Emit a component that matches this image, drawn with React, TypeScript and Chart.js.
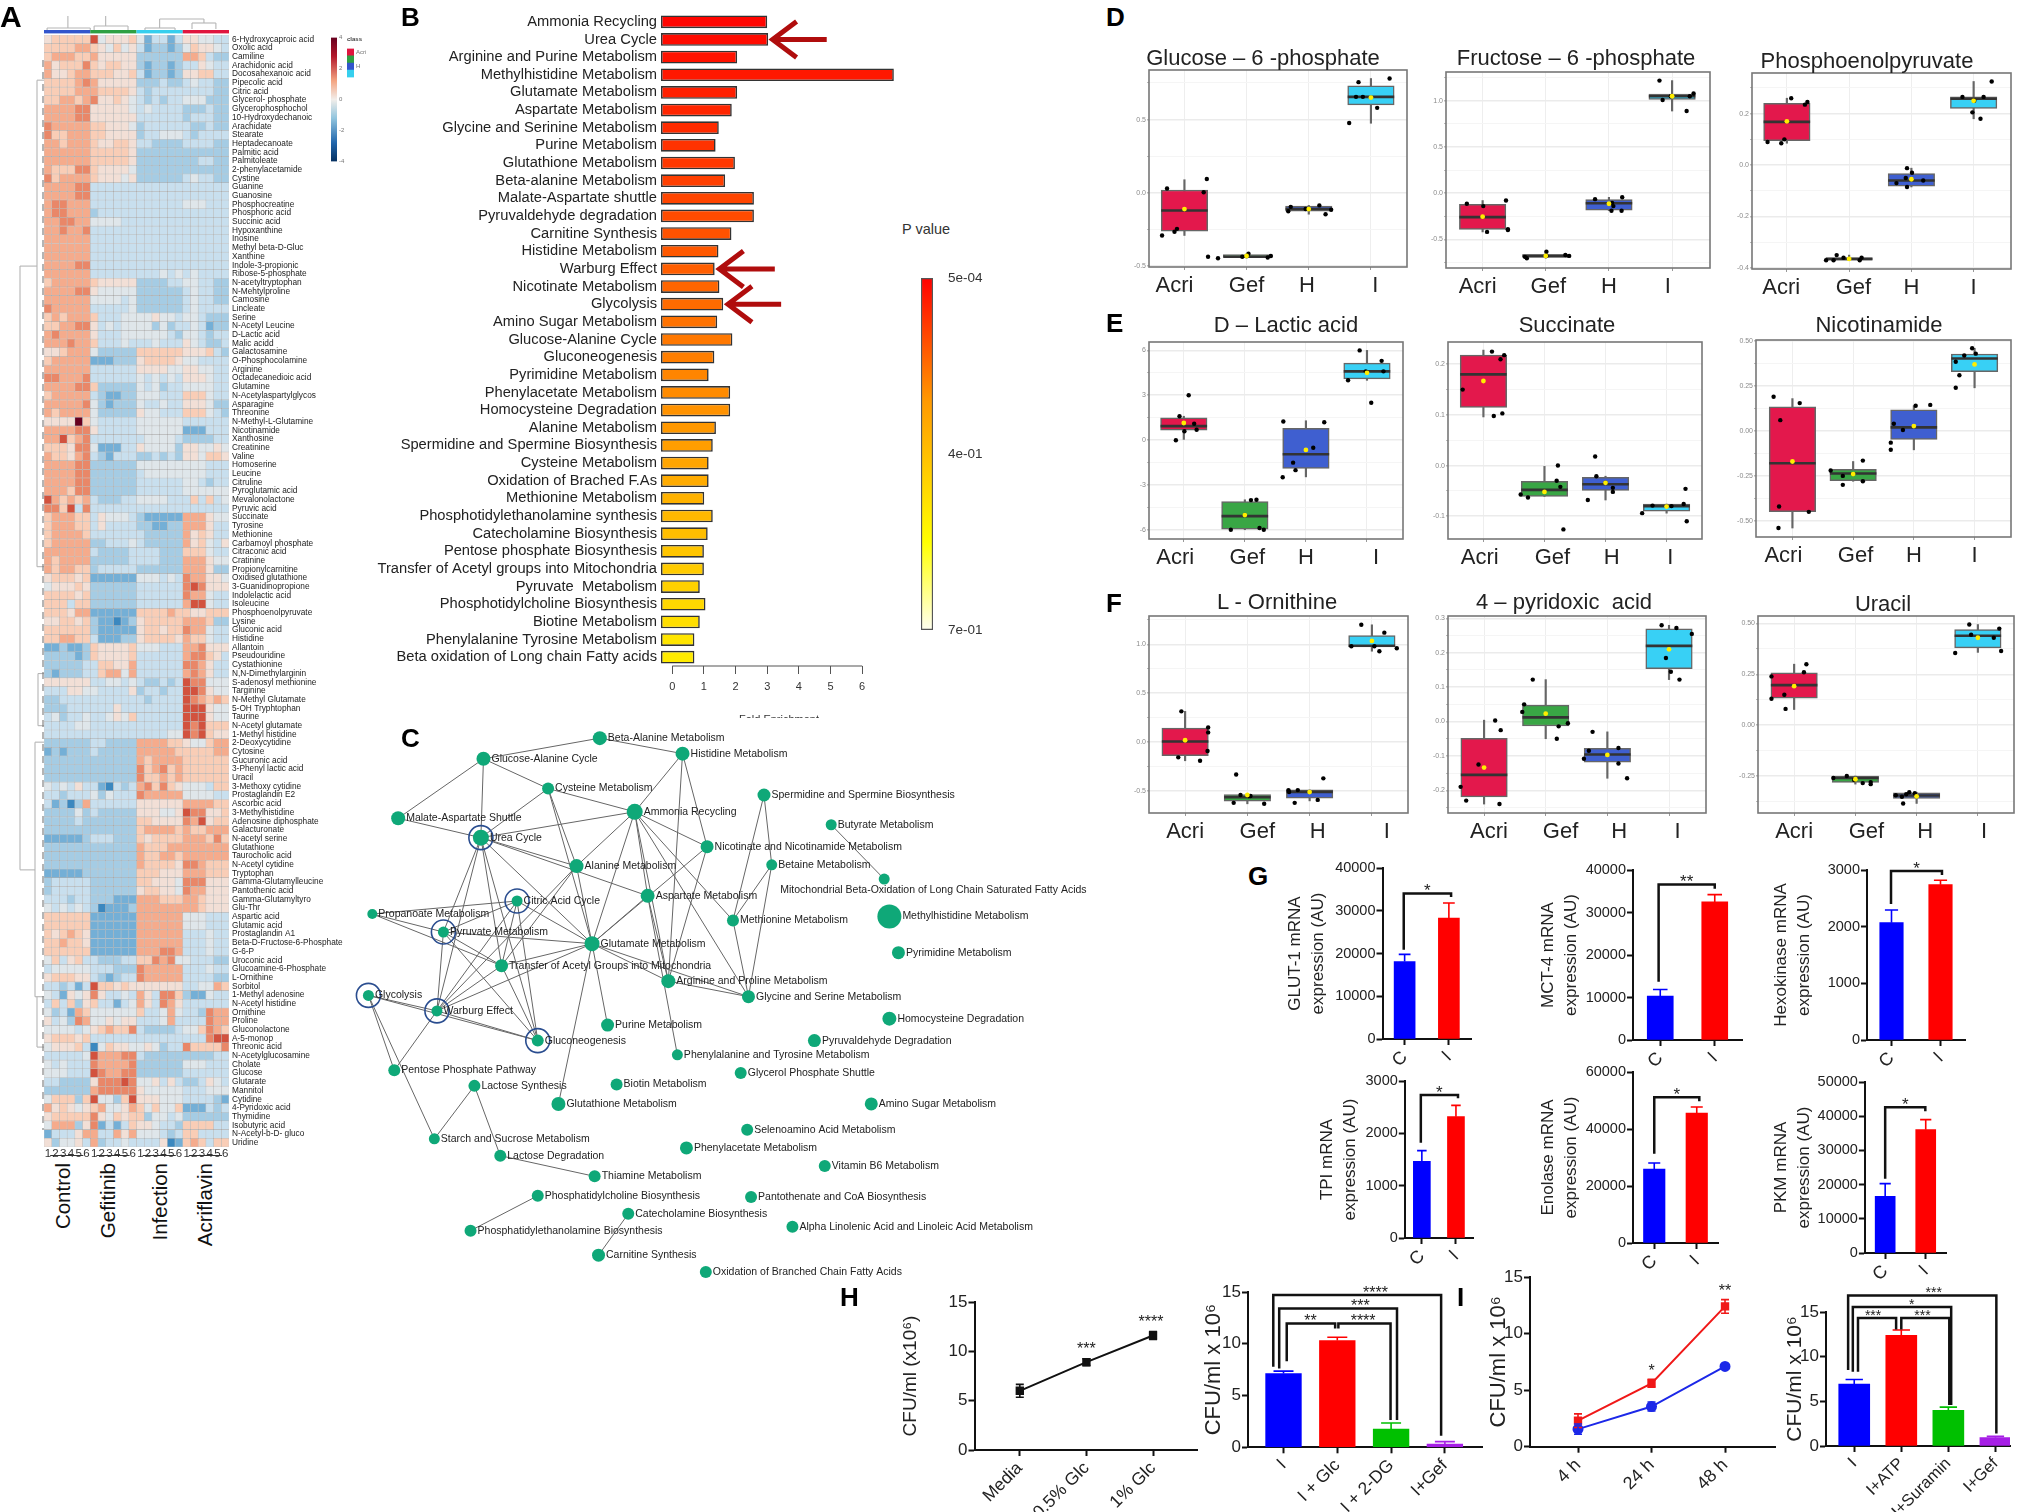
import { useEffect, useRef } from "react";
import { Chart, registerables } from "chart.js";

Chart.register(...registerables);
const FONT = "'Liberation Sans', Arial, sans-serif";
Chart.defaults.font.family = FONT;
Chart.defaults.color = "#222";
Chart.defaults.plugins.legend.display = false;
Chart.defaults.plugins.tooltip.enabled = false;

/* ---------- Panel A data ---------- */
const metabolites = ["6-Hydroxycaproic acid","Oxolic acid","Camiline","Arachidonic acid","Docosahexanoic acid","Pipecolic acid","Citric acid","Glycerol- phosphate","Glycerophosphochol","10-Hydroxydechanoic","Arachidate","Stearate","Heptadecanoate","Palmitic acid","Palmitoleate","2-phenylacetamide","Cystine","Guanine","Guanosine","Phosphocreatine","Phosphoric acid","Succinic acid","Hypoxanthine","Inosine","Methyl beta-D-Gluc","Xanthine","Indole-3-propionic","Ribose-5-phosphate","N-acetyltryptophan","N-Mehtylproline","Camosine","Lincleate","Serine","N-Acetyl Leucine","D-Lactic acid","Malic acidd","Galactosamine","O-Phosphocolamine","Arginine","Octadecanedioic acid","Glutamine","N-Acetylaspartylglycos","Asparagine","Threonine","N-Methyl-L-Glutamine","Nicotinamide","Xanthosine","Creatinine","Valine","Homoserine","Leucine","Citruline","Pyroglutamic acid","Mevalonolactone","Pyruvic acid","Succinate","Tyrosine","Methionine","Carbamoyl phosphate","Citraconic acid","Cratinine","Propionylcarnitine","Oxidised glutathione","3-Guanidinopropione","Indolelactic acid","Isoleucine","Phosphoenolpyruvate","Lysine","Gluconic acid","Histidine","Allantoin","Pseudouridine","Cystathionine","N,N-Dimethylarginin","S-adenosyl methionine","Targinine","N-Methyl Glutamate","5-OH Tryphtophan","Taurine","N-Acetyl glutamate","1-Methyl histidine","2-Deoxycytidine","Cytosine","Gucuronic acid","3-Phenyl lactic acid","Uracil","3-Methoxy cytidine","Prostaglandin E2","Ascorbic acid","3-Methylhistidine","Adenosine diphosphate","Galacturonate","N-acetyl serine","Glutathione","Taurocholic acid","N-Acetyl cytidine","Tryptophan","Gamma-Glutamylleucine","Pantothenic acid","Gamma-Glutamyltyro","Glu-Thr","Aspartic acid","Glutamic acid","Prostaglandin A1","Beta-D-Fructose-6-Phosphate","G-6-P","Uroconic acid","Glucoamine-6-Phosphate","L-Ornithine","Sorbitol","1-Methyl adenosine","N-Acetyl histidine","Ornithine","Proline","Gluconolactone","A-5-monop","Threonic acid","N-Acetylglucosamine","Cholate","Glucose","Glutarate","Mannitol","Cytidine","4-Pyridoxic acid","Thymidine","Isobutyric acid","N-Acetyl-b-D- gluco","Uridine"];

// one string per metabolite, 24 cells: Control, Gefitinib, Infection, Acriflavin (level 0 blue ... 9 red, X darkest)
const heatRows = [
"566666 945556 413313 554433","666677 654645 312212 465543","677766 755555 222222 776322","756668 656655 212212 335433","755677 666556 312212 556633",
"666678 755555 222322 343322","666677 766665 323333 333322","667767 855654 323233 444222","777788 555554 343333 222322","777788 555555 333333 233322",
"877777 665554 233333 322322","866777 665555 233444 323333","776777 655665 332222 333322","777777 666665 222222 222222","777777 666665 222222 223322",
"766688 655554 222222 222222","867777 655545 222222 343322","777788 333333 333333 333333","777788 333333 333333 333333","788777 333333 333333 444333",
"788777 233333 333333 333333","778877 444433 333333 333333","778778 333333 333333 333333","777777 333333 333333 333333","777777 333333 333333 333333",
"777777 333333 333333 333333","777788 333333 333333 333333","777777 333333 333434 343333","677777 655555 222233 443322","777788 544444 222222 343322",
"777777 444434 222222 343322","877777 333334 222222 343333","676777 633344 445443 443222","667788 534344 442423 343122","787777 533344 444432 443233",
"777877 633343 334333 543223","556777 422222 666666 555632","677777 111222 566665 443333","777777 333333 555544 554433","887778 333333 434343 555433",
"777788 622222 434233 444433","677777 321122 444333 666433","777778 421222 433433 555422","767777 422222 544333 666432","5555X6 433333 444444 333333",
"777788 533333 444444 111333","779678 333333 344443 222233","666588 411133 544442 554454","766578 321333 223232 554665","777788 222222 444444 444333",
"777788 222222 344444 444333","777788 222222 333333 443233","777688 222222 333333 444444","976767 322233 444433 363634","886938 333333 333333 333333",
"677766 354443 211111 777544","677766 353333 221122 777533","677776 333333 322222 756533","677777 223334 322222 756435","777777 322223 333222 666433",
"767777 222223 333222 777544","767766 233333 222222 777522","566656 111111 444343 877554","455565 222222 333333 898555","666656 222222 333333 877433",
"666366 222222 333333 799433","666577 111111 666676 655666","556656 211012 566666 777622","666666 211111 566566 877433","667766 311122 566665 766433",
"112112 655556 444333 778555","222212 655556 333333 788653","222223 366557 333333 887533","212223 367747 333333 787533","555555 334434 322323 988444",
"333554 433335 233233 998544","223333 333333 323333 987676","222333 333533 333333 999544","342334 334546 333333 999544","333344 333333 333333 989666",
"333333 333333 333344 989655","222222 332222 777766 544677","121222 322222 777776 666677","222222 222222 767777 666666","222222 222222 867867 666666",
"222222 222222 866767 666666","434353 310323 786865 444366","332333 424333 877777 444433","312027 333333 555555 777766","222242 322222 555445 988556",
"222232 222222 665555 879566","222222 222222 677776 766777","111112 333222 656666 777686","222222 222222 766677 777777","222222 222222 766776 777777",
"222222 222222 766665 887666","111112 222222 666555 777666","233333 222222 665554 888555","233333 222222 566554 877555","333233 222111 777666 776555",
"434343 201112 777777 776555","666666 111111 777777 444333","666666 111111 777777 444333","656765 111111 777777 333433","667665 111111 777777 333433",
"666666 111111 777887 333433","463563 322233 668784 433322","344444 333222 877777 333433","566655 321233 877777 333322","332313 966565 555555 334476",
"431545 853343 753886 211433","363625 633134 753875 333333","423176 444444 633474 332877","534287 445455 333473 333877","444434 567668 322223 446876",
"566656 333333 333333 333899","455563 046554 454233 866668","333334 977788 322222 222233","434333 877778 222222 444333","444333 987788 222222 333333",
"332222 588898 445353 223543","222222 788888 544444 333444","466626 944269 555444 333321","756545 674457 646446 111323","566666 854656 624434 222222",
"477725 813136 554332 666633","133357 733757 444323 663333","524453 723343 333501 676366"
];
const heatLevels = ["#3b88bf","#74afd6","#a5cce4","#c8dfee","#dfe6ea","#f2dfd6","#f9cdb6","#f5ab8c","#e98768","#d2523e"];
const heatMax = "#67001f";
const columnLabels = ["1","2","3","4","5","6","1","2","3","4","5","6","1","2","3","4","5","6","1","2","3","4","5","6"];
const classNames = ["Acri","Gef","H","I"];
const classColors = ["#e0163f","#2ea043","#3355cc","#36cfee"];
const stripColors = ["#3355cc","#2ea043","#36cfee","#e0163f"];

/* ---------- Panel B data ---------- */
const pathways = ["Ammonia Recycling","Urea Cycle","Arginine and Purine Metabolism","Methylhistidine Metabolism","Glutamate Metabolism","Aspartate Metabolism","Glycine and Serinine Metabolism","Purine Metabolism","Glutathione Metabolism","Beta-alanine Metabolism","Malate-Aspartate shuttle","Pyruvaldehyde degradation","Carnitine Synthesis","Histidine Metabolism","Warburg Effect","Nicotinate Metabolism","Glycolysis","Amino Sugar Metabolism","Glucose-Alanine Cycle","Gluconeogenesis","Pyrimidine Metabolism","Phenylacetate Metabolism","Homocysteine Degradation","Alanine Metabolism","Spermidine and Spermine Biosynthesis","Cysteine Metabolism","Oxidation of Brached F.As","Methionine Metabolism","Phosphotidylethanolamine synthesis","Catecholamine Biosynthesis","Pentose phosphate Biosynthesis","Transfer of Acetyl groups into Mitochondria","Pyruvate  Metabolism","Phosphotidylcholine Biosynthesis","Biotine Metabolism","Phenylalanine Tyrosine Metabolism","Beta oxidation of Long chain Fatty acids"];
const foldEnrichment = [3.0,3.03,2.05,7.0,2.05,1.88,1.47,1.37,1.98,1.67,2.58,2.58,1.87,1.46,1.34,1.49,1.61,1.42,1.9,1.33,1.15,1.83,1.83,1.38,1.28,1.15,1.15,1.01,1.28,1.12,1.0,1.0,0.87,1.05,0.87,0.7,0.7];
const foldTicks = [0,1,2,3,4,5,6];
const pValueTicks = ["7e-01","4e-01","5e-04"];
const arrowMarks = [[3.17,4.88,1],[1.49,3.24,14],[1.76,3.44,16]];

/* ---------- Panel C data ---------- */
const nodeNames = ["Beta-Alanine Metabolism","Histidine Metabolism","Glucose-Alanine Cycle","Cysteine Metabolism","Spermidine and Spermine Biosynthesis","Ammonia Recycling","Malate-Aspartate Shuttle","Butyrate Metabolism","Urea Cycle","Nicotinate and Nicotinamide Metabolism","Betaine Metabolism","Alanine Metabolism","Mitochondrial Beta-Oxidation of Long Chain Saturated Fatty Acids","Aspartate Metabolism","Citric Acid Cycle","Propanoate Metabolism","Methylhistidine Metabolism","Pyruvate Metabolism","Methionine Metabolism","Glutamate Metabolism","Pyrimidine Metabolism","Transfer of Acetyl Groups into Mitochondria","Arginine and Proline Metabolism","Glycine and Serine Metabolism","Glycolysis","Warburg Effect","Homocysteine Degradation","Purine Metabolism","Gluconeogenesis","Pyruvaldehyde Degradation","Phenylalanine and Tyrosine Metabolism","Pentose Phosphate Pathway","Glycerol Phosphate Shuttle","Lactose Synthesis","Biotin Metabolism","Glutathione Metabolism","Amino Sugar Metabolism","Selenoamino Acid Metabolism","Starch and Sucrose Metabolism","Phenylacetate Metabolism","Lactose Degradation","Vitamin B6 Metabolism","Thiamine Metabolism","Phosphatidylcholine Biosynthesis","Pantothenate and CoA Biosynthesis","Catecholamine Biosynthesis","Alpha Linolenic Acid and Linoleic Acid Metabolism","Phosphatidylethanolamine Biosynthesis","Carnitine Synthesis","Oxidation of Branched Chain Fatty Acids"];
const nodeX = [464,528,374,424,591,491,308,643,372,547,597,446,684,501,400,288,688,343,567,458,695,388,517,579,285,338,688,470,416,630,524,305,573,367,477,432,674,578,336,531,387,638,460,416,581,486,613,364,463,546];
const nodeY = [571,583,587,610,615,628,633,638,648,655,669,670,680,693,697,707,709,721,712,730,737,747,759,771,770,782,788,793,805,805,816,828,830,840,839,854,854,874,881,888,894,902,910,925,926,939,949,952,971,984];
const nodeSize = [7,7,7,6,6.5,8,7,5.5,8,6.5,5.5,7,5.5,7,5.5,5,12,5.5,6,7.5,6.5,6.5,7,6.5,5.5,5.5,7,6.5,6,6.5,5.5,6,6,6,6,7,6.5,6,5.5,6.5,6,6,6,6,6,6,6,6,6.5,6];
const nodeEdges = [[2,0],[0,1],[2,6],[2,8],[2,3],[3,5],[3,8],[3,19],[3,11],[6,8],[8,5],[8,11],[8,13],[8,19],[8,21],[8,28],[8,25],[8,17],[1,5],[1,9],[1,22],[5,9],[5,11],[5,13],[5,19],[5,22],[5,18],[5,23],[9,22],[9,19],[4,18],[4,10],[10,18],[10,23],[18,23],[7,12],[13,19],[13,22],[13,30],[11,19],[11,21],[11,25],[19,14],[19,17],[19,21],[19,25],[19,22],[19,23],[19,27],[19,35],[22,23],[14,17],[14,15],[14,21],[14,25],[14,28],[15,17],[15,21],[17,25],[17,21],[17,28],[21,25],[21,28],[24,25],[24,28],[25,28],[25,31],[24,38],[24,31],[33,38],[33,40],[40,42],[43,47],[45,48]];
const ringedNodes = [8,14,17,24,25,28];

/* ---------- Panels D, E, F data: [low, q1, median, q3, high, mean] per group ---------- */
const groupLabels = ["Acri","Gef","H","I"];
const boxColors = ["#e3184c","#39a645","#3f5fd0","#38d0f5"];
const glucoseStats = [[-0.29,-0.26,-0.12,0.02,0.09,-0.11],[-0.445,-0.44,-0.435,-0.42,-0.415,-0.43],[-0.145,-0.125,-0.11,-0.09,-0.085,-0.11],[0.475,0.6,0.655,0.73,0.78,0.65]];
const glucoseDots = [[-0.36,-0.29],[-0.28,0.03],[-0.16,-0.265],[-0.12,-0.245],[0.31,0.005],[0.36,0.095],[0.38,-0.435],[0.54,-0.445],[0.93,-0.435],[1.03,-0.415],[1.34,-0.44],[1.39,-0.43],[1.67,-0.125],[1.71,-0.095],[1.95,-0.11],[2.17,-0.085],[2.27,-0.145],[2.36,-0.115],[2.65,0.477],[2.8,0.755],[2.76,0.655],[2.87,0.655],[3.1,0.58],[3.3,0.78]];
const fructoseStats = [[-0.42,-0.394,-0.26,-0.12,-0.08,-0.255],[-0.705,-0.695,-0.68,-0.665,-0.635,-0.68],[-0.19,-0.185,-0.11,-0.07,-0.045,-0.115],[0.89,1.015,1.05,1.075,1.22,1.05]];
const fructoseDots = [[-0.25,-0.115],[0.01,-0.14],[0.07,-0.42],[0.37,-0.08],[0.4,-0.39],[0.4,-0.4],[0.7,-0.705],[1.01,-0.635],[1.31,-0.67],[1.37,-0.68],[0.67,-0.69],[1.01,-0.68],[1.78,-0.065],[2.05,-0.105],[2.07,-0.14],[2.04,-0.19],[2.2,-0.19],[2.21,-0.045],[2.8,1.22],[2.85,1.01],[2.98,1.05],[3.28,1.05],[3.34,1.08],[3.23,0.89]];
const pepStats = [[0.085,0.095,0.168,0.24,0.26,0.17],[-0.37,-0.37,-0.365,-0.36,-0.35,-0.365],[-0.085,-0.082,-0.06,-0.033,-0.012,-0.055],[0.18,0.22,0.258,0.265,0.325,0.25]];
const pepDots = [[-0.31,0.09],[-0.09,0.085],[-0.04,0.1],[0.07,0.26],[0.29,0.235],[0.33,0.245],[0.63,-0.37],[0.75,-0.37],[0.8,-0.35],[0.91,-0.36],[1.17,-0.37],[1.2,-0.36],[1.76,-0.07],[1.91,-0.05],[1.93,-0.012],[2.01,-0.03],[1.93,-0.085],[2.19,-0.06],[2.82,0.265],[2.98,0.205],[3.11,0.18],[3.16,0.265],[3.29,0.325],[3.01,0.25]];
const lacticStats = [[0,0.67,0.94,1.5,1.6,1.15],[-5.98,-5.95,-5.07,-4.1,-3.98,-5.0],[-2.45,-1.88,-0.94,0.8,1.3,-0.65],[4.0,4.1,4.6,5.15,6,4.5]];
const lacticDots = [[-0.13,0],[-0.07,1.6],[0.01,0.6],[0.08,3],[0.17,1.1],[0.21,0.7],[0.77,-5.98],[1.1,-4],[1.19,-3.98],[1.24,-5.87],[1.31,-5.98],[1,-5],[1.62,-2.47],[1.63,1.25],[1.79,-1.5],[1.83,-2],[2.12,-0.5],[2.3,1.2],[2.69,4],[2.88,6],[2.98,4.6],[3.07,2.5],[3.24,5.3],[3.27,4.6]];
const succinateStats = [[0.096,0.115,0.18,0.218,0.228,0.167],[-0.061,-0.061,-0.048,-0.031,0,-0.052],[-0.068,-0.049,-0.037,-0.023,-0.021,-0.034],[-0.094,-0.09,-0.08,-0.076,-0.076,-0.081]];
const succinateDots = [[-0.34,0.15],[0.14,0.225],[0.17,0.098],[0.31,0.103],[0.28,0.21],[0.34,0.218],[0.61,-0.057],[0.73,-0.063],[1.2,-0.03],[1.26,-0.042],[1.22,0],[1.31,-0.126],[1.71,-0.068],[1.83,0.018],[1.85,-0.021],[2.12,-0.044],[2.12,-0.052],[2,-0.034],[2.6,-0.094],[2.77,-0.079],[3.08,-0.08],[3.28,-0.076],[3.31,-0.046],[3.33,-0.11]];
const nicotinamideStats = [[-0.54,-0.449,-0.18,0.134,0.18,-0.17],[-0.28,-0.276,-0.237,-0.214,-0.17,-0.24],[-0.105,-0.047,0.02,0.117,0.14,0.027],[0.24,0.33,0.403,0.428,0.46,0.37]];
const nicotinamideDots = [[-0.31,0.19],[-0.2,0.06],[-0.22,-0.42],[-0.23,-0.54],[0.12,0.155],[0.27,-0.45],[0.63,-0.22],[0.83,-0.25],[0.83,-0.3],[1.16,-0.165],[1.16,-0.28],[1,-0.24],[1.62,-0.065],[1.62,-0.105],[1.67,0.04],[1.82,0.005],[2.03,0.14],[2.27,0.145],[2.69,0.24],[2.75,0.31],[2.69,0.385],[2.83,0.42],[2.96,0.46],[3.02,0.43]];
const ornithineStats = [[-0.19,-0.137,0.007,0.143,0.315,0.02],[-0.63,-0.604,-0.563,-0.536,-0.536,-0.54],[-0.6,-0.573,-0.508,-0.488,-0.488,-0.51],[0.93,0.973,0.986,1.09,1.2,1.035]];
const ornithineDots = [[-0.11,-0.155],[-0.06,0.315],[0.24,-0.19],[0.36,-0.09],[0.37,0.15],[0.37,0.1],[0.82,-0.33],[0.78,-0.62],[0.89,-0.54],[1.02,-0.55],[1.05,-0.55],[1.27,-0.63],[1.66,-0.49],[1.67,-0.51],[1.76,-0.62],[1.81,-0.49],[2.13,-0.59],[2.22,-0.37],[2.67,0.98],[2.83,1.2],[3.12,0.93],[3.2,1.12],[3.4,0.96],[3.04,0.98]];
const pyridoxicStats = [[-0.24,-0.219,-0.155,-0.049,0.004,-0.134],[-0.05,-0.013,0.012,0.048,0.122,0.023],[-0.165,-0.118,-0.096,-0.078,-0.03,-0.097],[0.122,0.154,0.22,0.27,0.28,0.21]];
const pyridoxicDots = [[-0.38,-0.19],[-0.29,-0.23],[-0.09,-0.125],[0.18,0.003],[0.27,-0.025],[0.25,-0.24],[0.62,0.028],[0.65,0.05],[0.79,0.122],[1.18,-0.05],[1.21,-0.014],[1.36,-0.005],[1.62,-0.108],[1.7,-0.085],[1.76,-0.03],[2.18,-0.077],[2.18,-0.122],[2.32,-0.165],[2.88,0.28],[2.95,0.185],[3.03,0.145],[3.12,0.272],[3.17,0.122],[3.37,0.255]];
const uracilStats = [[0.077,0.133,0.197,0.258,0.3,0.192],[-0.29,-0.282,-0.26,-0.25,-0.25,-0.266],[-0.385,-0.36,-0.346,-0.333,-0.33,-0.35],[0.358,0.38,0.44,0.47,0.495,0.43]];
const uracilDots = [[-0.37,0.24],[-0.37,0.13],[-0.16,0.15],[-0.14,0.08],[0.16,0.26],[0.2,0.3],[0.64,-0.26],[0.86,-0.25],[0.98,-0.27],[1.12,-0.285],[1.25,-0.29],[1.25,-0.28],[1.66,-0.345],[1.76,-0.352],[1.78,-0.385],[1.83,-0.34],[1.88,-0.33],[1.97,-0.335],[2.63,0.355],[2.86,0.495],[2.89,0.445],[3.26,0.43],[3.35,0.475],[3.38,0.365]];

/* ---------- Panel G data ---------- */
const expressionCats = ["C","I"];
const glutValues = [18100,28300], glutTops = [19800,31800];
const mctValues = [10350,32500], mctTops = [11900,34200];
const hexValues = [2070,2741], hexTops = [2294,2818];
const tpiValues = [1465,2318], tpiTops = [1669,2535];
const enoValues = [25960,45600], enoTops = [28070,47700];
const pkmValues = [16570,36070], pkmTops = [20280,39000];

/* ---------- Panels H, I data ---------- */
const glcCats = ["Media","0.5% Glc","1% Glc"];
const glcValues = [6.0,8.9,11.6], glcLow = [5.35,8.55,11.2], glcHigh = [6.65,9.25,12.0];
const hCats = ["I","I + Glc","I + 2-DG","I+Gef"];
const hValues = [7.13,10.31,1.77,0.32], hTops = [7.36,10.63,2.34,0.55];
const timeCats = ["4 h","24 h","48 h"];
const timeRed = [2.3,5.6,12.4], timeRedLow = [1.7,5.25,11.8], timeRedHigh = [2.9,5.95,13.0];
const timeBlue = [1.55,3.55,7.1], timeBlueLow = [1.1,3.15,6.9], timeBlueHigh = [2.0,3.95,7.3];
const iCats = ["I","I+ATP","I+Suramin","I+Gef"];
const iValues = [6.92,12.39,3.98,0.93], iTops = [7.44,12.99,4.35,1.08];

/* ---------- helpers ---------- */
const boxOf = (f: any, p: any) => ({ left: Math.round(f.l - p.l), top: Math.round(f.t - p.t), width: Math.round(f.r - f.l + p.l + p.r), height: Math.round(f.b - f.t + p.t + p.b) });
const fitW = (w: number) => (s: any) => { s.width = w; };
const fitH = (h: number) => (s: any) => { s.height = h; };
const base = (p: any) => ({ responsive: false, animation: false, events: [], devicePixelRatio: 1, layout: { autoPadding: false, padding: { top: p.t, right: p.r, left: 0, bottom: 0 } } });
const noGrid = { display: false, drawTicks: false, tickLength: 0 };

const framePlugin = (color = "#777", lw = 1.6) => ({ id: "frame", afterDatasetsDraw(c: any) { const a = c.chartArea; const x = c.ctx; x.save(); x.strokeStyle = color; x.lineWidth = lw; x.strokeRect(a.left, a.top, a.right - a.left, a.bottom - a.top); x.restore(); } });

const errorPlugin = { id: "errorBars", afterDatasetsDraw(c: any) {
  const x = c.ctx, ys = c.scales.y;
  c.data.datasets.forEach((ds: any, di: number) => {
    if (!ds.errHigh) return;
    const meta = c.getDatasetMeta(di);
    x.save(); x.strokeStyle = ds.errColor; x.lineWidth = ds.errWidth || 1.6;
    meta.data.forEach((el: any, i: number) => {
      const hi = ys.getPixelForValue(ds.errHigh[i]);
      const lo = ys.getPixelForValue(ds.errLow[i]);
      x.beginPath(); x.moveTo(el.x, lo); x.lineTo(el.x, hi);
      x.moveTo(el.x - ds.capW, hi); x.lineTo(el.x + ds.capW, hi);
      x.moveTo(el.x - ds.capW, lo); x.lineTo(el.x + ds.capW, lo);
      x.stroke();
    });
    x.restore();
  });
} };

const bracketPlugin = (items: any[], font = 17, lw = 2.5) => ({ id: "brackets", afterDatasetsDraw(c: any) {
  const x = c.ctx, xs = c.scales.x, ys = c.scales.y;
  x.save(); x.strokeStyle = "#111"; x.fillStyle = "#222"; x.lineWidth = lw; x.font = `${font}px ${FONT}`; x.textAlign = "center"; x.textBaseline = "middle";
  items.forEach((b) => {
    if (b.x1 !== undefined) {
      x.beginPath(); x.moveTo(xs.getPixelForValue(b.x1), ys.getPixelForValue(b.y1)); x.lineTo(xs.getPixelForValue(b.x1), ys.getPixelForValue(b.top));
      x.lineTo(xs.getPixelForValue(b.x2), ys.getPixelForValue(b.top)); x.lineTo(xs.getPixelForValue(b.x2), ys.getPixelForValue(b.y2)); x.stroke();
      const tx = b.tx !== undefined ? b.tx : (b.x1 + b.x2) / 2;
      x.fillText(b.text, xs.getPixelForValue(tx), ys.getPixelForValue(b.top) - 2);
    } else x.fillText(b.text, xs.getPixelForValue(b.tx), ys.getPixelForValue(b.ty));
  });
  x.restore();
} });

const axisFont = (size: number) => ({ size, family: FONT });
const plainNumber = (v: number) => String(v);

function barConfig(o: any) {
  const { p, cats, values, tops, colors, range, yMax, yStep, barW, title, titleSize, tickSize, catSize, brackets, bracketFont } = o;
  return {
    type: "bar",
    data: { datasets: [{ data: values.map((v: number, i: number) => ({ x: i, y: v })), backgroundColor: colors, barThickness: barW }] },
    options: {
      ...base(p),
      scales: {
        x: { type: "linear", offset: false, min: range[0], max: range[1], afterFit: fitH(p.b), afterBuildTicks: (s: any) => { s.ticks = cats.map((_: any, i: number) => ({ value: i })); },
          ticks: { autoSkip: false, minRotation: 45, maxRotation: 45, padding: 2, color: "#222", font: axisFont(catSize), callback: (v: number) => cats[v] },
          grid: { offset: false, drawOnChartArea: false, drawTicks: true, tickLength: 6, tickColor: "#111", tickWidth: 2 }, border: { color: "#111", width: 2 } },
        y: { min: 0, max: yMax, afterFit: fitW(p.l), ticks: { stepSize: yStep, autoSkip: false, padding: 1, color: "#222", font: axisFont(tickSize), callback: plainNumber },
          grid: { drawOnChartArea: false, drawTicks: true, tickLength: 6, tickColor: "#111", tickWidth: 2 }, border: { color: "#111", width: 2 },
          title: { display: true, text: title, color: "#222", padding: 0, font: { size: titleSize, family: FONT, lineHeight: 1.4 } } },
      },
    },
    plugins: [{ id: "barErr", afterDatasetsDraw(c: any) {
      const meta = c.getDatasetMeta(0), x = c.ctx, ys = c.scales.y;
      x.save(); x.lineWidth = 1.6;
      meta.data.forEach((el: any, i: number) => {
        const h = ys.getPixelForValue(tops[i]); const w = barW * 0.28;
        x.strokeStyle = colors[i]; x.beginPath(); x.moveTo(el.x, el.y); x.lineTo(el.x, h); x.moveTo(el.x - w, h); x.lineTo(el.x + w, h); x.stroke();
      });
      x.restore();
    } }, bracketPlugin(brackets, bracketFont || 17)],
  };
}

function lineConfig(o: any) {
  const { p, cats, series, range, yMax, yStep, title, titleSize, tickSize, catSize, notes } = o;
  return {
    type: "line",
    data: { datasets: series.map((s: any) => ({ data: s.values.map((v: number, i: number) => ({ x: i, y: v })), borderColor: s.color, backgroundColor: s.color, borderWidth: 2, pointRadius: 4.5, pointStyle: s.marker, errHigh: s.high, errLow: s.low, errColor: s.color, capW: 4, tension: 0 })) },
    options: {
      ...base(p),
      scales: {
        x: { type: "linear", offset: false, min: range[0], max: range[1], afterFit: fitH(p.b), afterBuildTicks: (s: any) => { s.ticks = cats.map((_: any, i: number) => ({ value: i })); },
          ticks: { autoSkip: false, minRotation: 45, maxRotation: 45, padding: 2, color: "#222", font: axisFont(catSize), callback: (v: number) => cats[v] },
          grid: { drawOnChartArea: false, drawTicks: true, tickLength: 6, tickColor: "#111", tickWidth: 2 }, border: { color: "#111", width: 2 } },
        y: { min: 0, max: yMax, afterFit: fitW(p.l), ticks: { stepSize: yStep, autoSkip: false, padding: 1, color: "#222", font: axisFont(tickSize), callback: plainNumber },
          grid: { drawOnChartArea: false, drawTicks: true, tickLength: 6, tickColor: "#111", tickWidth: 2 }, border: { color: "#111", width: 2 },
          title: { display: true, text: title, color: "#222", padding: 0, font: { size: titleSize, family: FONT } } },
      },
    },
    plugins: [errorPlugin, bracketPlugin(notes, 16)],
  };
}

function boxConfig(o: any) {
  const { p, stats, dots, range, yRange, major, dec, shift } = o;
  const isMajor = (v: number) => Math.abs(v / major - Math.round(v / major)) < 1e-6;
  const w = 46.5;
  return {
    type: "bar",
    data: { datasets: [
      { type: "bar", grouped: false, order: 5, barThickness: 1.5, backgroundColor: "#666", data: stats.map((s: number[], i: number) => ({ x: i, y: [s[0], s[4]] })) },
      { type: "bar", grouped: false, order: 4, barThickness: w, backgroundColor: boxColors, borderColor: "#666", borderWidth: 1.5, borderSkipped: false, data: stats.map((s: number[], i: number) => ({ x: i, y: [s[1], s[3]] })) },
      { type: "scatter", order: 3, pointStyle: "line", pointRadius: w / 2, pointBorderWidth: 2.6, pointBorderColor: "#333", data: stats.map((s: number[], i: number) => ({ x: i, y: s[2] })) },
      { type: "scatter", order: 2, pointRadius: 2.2, pointBorderWidth: 0, pointBackgroundColor: "#000", data: dots.map((d: number[]) => ({ x: d[0], y: d[1] })) },
      { type: "scatter", order: 1, pointRadius: 2.4, pointBorderWidth: 0, pointBackgroundColor: "#ffee00", data: stats.map((s: number[], i: number) => ({ x: i, y: s[5] })) },
    ] },
    options: {
      ...base(p),
      scales: {
        x: { type: "linear", offset: false, min: range[0], max: range[1], weight: 0, afterFit: fitH(3), afterBuildTicks: (s: any) => { s.ticks = groupLabels.map((_, i) => ({ value: i })); },
          ticks: { display: false },
          grid: { offset: false, color: "#eeeeee", lineWidth: 1, tickLength: 3, tickColor: "#999" }, border: { display: false } },
        xNames: { type: "linear", axis: "x", position: "bottom", offset: false, min: range[0], max: range[1], weight: 1, afterFit: fitH(p.b - 3), afterBuildTicks: (s: any) => { s.ticks = groupLabels.map((_, i) => ({ value: i + shift[i] })); },
          ticks: { autoSkip: false, maxRotation: 0, padding: 3, color: "#222", font: axisFont(22), callback: (_v: number, i: number) => groupLabels[i] },
          grid: noGrid, border: { display: false } },
        y: { type: "linear", min: yRange[0], max: yRange[1], afterFit: fitW(p.l),
          ticks: { stepSize: major / 2, includeBounds: false, autoSkip: false, padding: 1, color: "#8a8a8a", font: axisFont(7), callback: (v: number) => (isMajor(v) ? v.toFixed(dec) : "") },
          grid: { color: (c: any) => (isMajor(c.tick.value) ? "#ebebeb" : "#f5f5f5"), lineWidth: (c: any) => (isMajor(c.tick.value) ? 1.6 : 1), tickLength: 2, tickColor: "#bbb" }, border: { display: false } },
      },
    },
    plugins: [framePlugin()],
  };
}

function gradientBar(ctx: any, stops: [number, string][]) {
  const a = ctx.chart.chartArea;
  if (!a) return stops[0][1];
  const g = ctx.chart.ctx.createLinearGradient(0, a.bottom, 0, a.top);
  stops.forEach(([o, c]) => g.addColorStop(o, c));
  return g;
}

/* ---------- chart configurations ---------- */
const heatF = { l: 44, t: 35, r: 229, b: 1147 }, heatP = { l: 44, t: 35, r: 135, b: 12 };
function heatConfig() {
  const rows = heatRows.map((r) => r.replace(/ /g, ""));
  const leftDendro = [[37,4.7,37,60.7],[37,4.7,44,4.7],[37,60.7,44,60.7],[20,26.1,20,95.6],[20,26.1,37,26.1],[20,95.6,35,95.6],[35,80.9,35,110.2],[35,80.9,44,80.9],[35,110.2,44,110.2],[37,110.2,37,116],[37,116,44,116],[38,73,38,79],[38,73,44,73],[38,79,44,79]];
  const topDendro = [[3.1,16,3.1,28],[.4,28,6,28],[8,16,8,26],[6.5,26,10.9,26],[15,19,20.75,19],[15,19,15,28],[20.75,19,20.75,23],[19.2,23,22.3,23],[19.2,23,19.2,29],[22.3,23,22.3,29],[13.1,28,17,28],[.4,28,.4,30],[6,28,6,30],[6.5,26,6.5,30],[10.9,26,10.9,30],[13.1,28,13.1,30],[17,28,17,30]];
  const plugin = { id: "heatDecor", afterDatasetsDraw(c: any) {
    const x = c.ctx, xs = c.scales.x, ys = c.scales.y;
    x.save();
    stripColors.forEach((col, i) => { x.fillStyle = col; x.fillRect(xs.getPixelForValue(i * 6), 30, xs.getPixelForValue(6) - xs.getPixelForValue(0), 3.4); });
    x.strokeStyle = "#b5b5b5"; x.lineWidth = 1.1;
    leftDendro.forEach(([a, r1, b, r2]) => { x.beginPath(); x.moveTo(a, ys.getPixelForValue(r1)); x.lineTo(b, ys.getPixelForValue(r2)); x.stroke(); });
    topDendro.forEach(([a, y1, b, y2]) => { x.beginPath(); x.moveTo(xs.getPixelForValue(a), y1); x.lineTo(xs.getPixelForValue(b), y2); x.stroke(); });
    x.strokeStyle = "#777"; x.setLineDash([7, 5]); x.beginPath(); x.moveTo(43, 60); x.lineTo(43, 1130); x.stroke(); x.setLineDash([]);
    x.strokeStyle = "#333"; x.lineWidth = 1.2;
    [0, 6, 12, 18].forEach((g) => { x.beginPath(); x.moveTo(xs.getPixelForValue(g + 0.8), 1155.5); x.lineTo(xs.getPixelForValue(g + 5.1), 1155.5); x.stroke(); });
    x.restore();
  } };
  return {
    type: "bar",
    data: { labels: metabolites, datasets: columnLabels.map((_, c) => ({
      data: rows.map(() => [c, c + 1]),
      backgroundColor: rows.map((r) => (r[c] === "X" ? heatMax : heatLevels[Number(r[c])])),
      borderColor: "rgba(120,120,120,0.38)", borderWidth: 0.6, borderSkipped: false, barPercentage: 1, categoryPercentage: 1, grouped: false,
    })) },
    options: {
      ...base({ t: heatP.t, r: 0 }), indexAxis: "y",
      layout: { autoPadding: false, padding: { top: heatP.t, left: heatP.l, right: 0, bottom: 0 } },
      scales: {
        x: { type: "linear", min: 0, max: 24, display: false },
        x2: { type: "category", axis: "x", position: "bottom", labels: columnLabels, afterFit: fitH(heatP.b), offset: true, grid: noGrid, border: { display: false }, ticks: { autoSkip: false, maxRotation: 0, padding: 0, color: "#333", font: axisFont(11.5) } },
        y: { type: "category", position: "right", afterFit: fitW(heatP.r), grid: noGrid, border: { display: false }, ticks: { autoSkip: false, padding: 3, color: "#222", font: axisFont(8.3) } },
      },
    },
    plugins: [plugin],
  };
}

const heatBarF = { l: 331, t: 36, r: 337, b: 163 }, heatBarP = { l: 0, t: 4, r: 12, b: 4 };
const heatBarConfig = () => ({
  type: "bar",
  data: { labels: [""], datasets: [{ data: [[-4, 4]], barPercentage: 1, categoryPercentage: 1, backgroundColor: (c: any) => gradientBar(c, [[0, "#053061"], [0.15, "#2166ac"], [0.35, "#92c5de"], [0.5, "#f2eeea"], [0.65, "#f4a582"], [0.85, "#b2182b"], [1, "#67001f"]]) }] },
  options: { ...base(heatBarP), layout: { autoPadding: false, padding: { top: heatBarP.t, bottom: heatBarP.b, left: 0, right: 0 } }, scales: { x: { display: false }, y: { position: "right", min: -4, max: 4, afterFit: fitW(heatBarP.r), grid: noGrid, border: { display: false }, ticks: { stepSize: 2, padding: 2, color: "#777", font: axisFont(6) } } } },
});

const classF = { l: 347, t: 43, r: 354, b: 83 }, classP = { l: 0, t: 0, r: 16, b: 0 };
const classConfig = () => ({
  type: "bar",
  data: { labels: classNames, datasets: [{ data: classNames.map(() => [0, 1]), backgroundColor: classColors, barPercentage: 1, categoryPercentage: 1 }] },
  options: { ...base(classP), layout: { autoPadding: false, padding: 0 }, indexAxis: "y", scales: { x: { display: false, min: 0, max: 1 }, y: { position: "right", afterFit: fitW(classP.r), grid: noGrid, border: { display: false }, ticks: { padding: 2, color: "#777", font: axisFont(6) } } } },
});

const pathF = { l: 661, t: 13, r: 897, b: 666 }, pathP = { l: 290, t: 13, r: 3, b: 61 };
function pathConfig() {
  const n = pathways.length;
  const colors = pathways.map((_, i) => `rgb(255,${Math.round(5 + (i / (n - 1)) * 230)},0)`);
  const arrows = { id: "arrows", afterDatasetsDraw(c: any) {
    const x = c.ctx, xs = c.scales.x, ys = c.scales.y;
    x.save(); x.strokeStyle = "#b00d0d"; x.lineWidth = 5;
    arrowMarks.forEach(([tip, tail, row]) => {
      const a = xs.getPixelForValue(tip), b = xs.getPixelForValue(tail), y = ys.getPixelForValue(row);
      x.beginPath(); x.moveTo(b, y); x.lineTo(a, y); x.moveTo(a + 24, y - 18); x.lineTo(a, y); x.lineTo(a + 24, y + 18); x.stroke();
    });
    x.strokeStyle = "#555"; x.lineWidth = 1.2; x.beginPath(); x.moveTo(xs.getPixelForValue(0), c.chartArea.bottom); x.lineTo(xs.getPixelForValue(6), c.chartArea.bottom); x.stroke();
    x.restore();
  } };
  return {
    type: "bar",
    data: { labels: pathways, datasets: [{ data: foldEnrichment, base: -0.355, backgroundColor: colors, borderColor: "#333", borderWidth: 1.6, borderSkipped: false, barPercentage: 0.72, categoryPercentage: 1 }] },
    options: {
      ...base(pathP), indexAxis: "y",
      scales: {
        x: { type: "linear", min: -0.355, max: 7.1, afterFit: fitH(pathP.b), afterBuildTicks: (s: any) => { s.ticks = foldTicks.map((value) => ({ value })); },
          ticks: { padding: 6, maxRotation: 0, color: "#333", font: axisFont(11), callback: plainNumber },
          grid: { drawOnChartArea: false, tickLength: 8, tickColor: "#555" }, border: { display: false },
          title: { display: true, text: "Fold Enrichment", padding: 0, color: "#333", font: axisFont(11) } },
        y: { afterFit: fitW(pathP.l), grid: noGrid, border: { display: false }, ticks: { autoSkip: false, padding: 4, color: "#222", font: axisFont(14.7) } },
      },
    },
    plugins: [arrows],
  };
}

const pBarF = { l: 921, t: 265, r: 933, b: 643 }, pBarP = { l: 0, t: 10, r: 60, b: 10 };
const pBarConfig = () => ({
  type: "bar",
  data: { labels: [""], datasets: [{ data: [[0, 2]], borderColor: "#555", borderWidth: 1.5, borderSkipped: false, barPercentage: 1, categoryPercentage: 1, backgroundColor: (c: any) => gradientBar(c, [[0, "#fffff0"], [0.25, "#ffff00"], [0.65, "#ff9900"], [1, "#ff0000"]]) }] },
  options: { ...base(pBarP), layout: { autoPadding: false, padding: { top: pBarP.t, bottom: pBarP.b, right: 0, left: 0 } }, scales: { x: { display: false }, y: { position: "right", min: 0, max: 2, afterFit: fitW(pBarP.r), afterBuildTicks: (s: any) => { s.ticks = pValueTicks.map((_, value) => ({ value })); }, grid: noGrid, border: { display: false }, ticks: { padding: 15, color: "#333", font: axisFont(13.5), callback: (v: number) => pValueTicks[v] } } } },
});

const netBox = { left: 350, top: 715, width: 770, height: 575 };
function netConfig() {
  const k = 1.2927;
  const edgePoints: any[] = [];
  nodeEdges.forEach(([a, b]) => { edgePoints.push({ x: nodeX[a], y: nodeY[a] }, { x: nodeX[b], y: nodeY[b] }, { x: NaN, y: NaN }); });
  const labels = { id: "netLabels", afterDatasetsDraw(c: any) {
    const x = c.ctx, meta = c.getDatasetMeta(1);
    x.save(); x.font = `10.5px ${FONT}`; x.fillStyle = "#222"; x.textBaseline = "middle";
    meta.data.forEach((el: any, i: number) => {
      if (i === 12) x.fillText(nodeNames[i], el.x - 104, el.y + 11);
      else x.fillText(nodeNames[i], el.x + nodeSize[i] + 1, el.y);
    });
    x.restore();
  } };
  return {
    type: "scatter",
    data: { datasets: [
      { data: edgePoints, showLine: true, spanGaps: false, pointRadius: 0, borderColor: "#666", borderWidth: 1, order: 3 },
      { data: nodeNames.map((_, i) => ({ x: nodeX[i], y: nodeY[i] })), pointRadius: nodeSize, pointBackgroundColor: "#0fa878", pointBorderWidth: 0, order: 2 },
      { data: ringedNodes.map((i) => ({ x: nodeX[i], y: nodeY[i] })), pointRadius: 12, pointBackgroundColor: "rgba(0,0,0,0)", pointBorderColor: "#2a4d8f", pointBorderWidth: 1.6, order: 1 },
    ] },
    options: {
      responsive: false, animation: false, events: [], devicePixelRatio: 1, layout: { autoPadding: false, padding: 0 },
      scales: {
        x: { type: "linear", display: false, min: netBox.left / k, max: (netBox.left + netBox.width) / k },
        y: { type: "linear", display: false, reverse: true, min: netBox.top / k, max: (netBox.top + netBox.height) / k },
      },
    },
    plugins: [labels],
  };
}

const bp = { l: 30, t: 6, r: 6, b: 40 };
const boxPanels = [
  { title: "Glucose – 6 -phosphate", tx: 1263, ty: 58, shift: [-0.16,0,-0.03,0.07], f: { l: 1148.5, t: 70.4, r: 1406, b: 267.4 }, stats: glucoseStats, dots: glucoseDots, range: [-0.57, 3.58], yRange: [-0.505, 0.838], major: 0.5, dec: 1 },
  { title: "Fructose – 6 -phosphate", tx: 1576, ty: 58, shift: [-0.08,0.04,0,-0.07], f: { l: 1446, t: 71.5, r: 1710, b: 267.4 }, stats: fructoseStats, dots: fructoseDots, range: [-0.58, 3.6], yRange: [-0.811, 1.313], major: 0.5, dec: 1 },
  { title: "Phosphoenolpyruvate", tx: 1867, ty: 61, shift: [-0.09,0.07,0,0], f: { l: 1752, t: 73.3, r: 2010.7, b: 269.6 }, stats: pepStats, dots: pepDots, range: [-0.56, 3.6], yRange: [-0.404, 0.358], major: 0.2, dec: 1 },
  { title: "D – Lactic acid", tx: 1286, ty: 325, shift: [-0.14,0.04,0,0.15], f: { l: 1149, t: 341.9, r: 1403, b: 538.9 }, stats: lacticStats, dots: lacticDots, range: [-0.57, 3.59], yRange: [-6.6, 6.56], major: 3, dec: 0 },
  { title: "Succinate", tx: 1567, ty: 325, shift: [-0.06,0.13,0.1,0.06], f: { l: 1447.7, t: 341.9, r: 1702, b: 538.9 }, stats: succinateStats, dots: succinateDots, range: [-0.58, 3.58], yRange: [-0.145, 0.244], major: 0.1, dec: 1 },
  { title: "Nicotinamide", tx: 1879, ty: 325, shift: [-0.15,0.04,0,0], f: { l: 1756.4, t: 340, r: 2011.3, b: 537 }, stats: nicotinamideStats, dots: nicotinamideDots, range: [-0.6, 3.6], yRange: [-0.59, 0.506], major: 0.25, dec: 2 },
  { title: "L - Ornithine", tx: 1277, ty: 602, shift: [0,0.16,0.13,0.24], f: { l: 1148.5, t: 615.7, r: 1407, b: 812.3 }, stats: ornithineStats, dots: ornithineDots, range: [-0.58, 3.58], yRange: [-0.724, 1.29], major: 0.5, dec: 1 },
  { title: "4 – pyridoxic  acid", tx: 1564, ty: 602, shift: [0.08,0.24,0.19,0.14], f: { l: 1448.3, t: 615.7, r: 1706.7, b: 812.3 }, stats: pyridoxicStats, dots: pyridoxicDots, range: [-0.585, 3.6], yRange: [-0.266, 0.307], major: 0.1, dec: 1 },
  { title: "Uracil", tx: 1883, ty: 604, shift: [0,0.18,0.14,0.1], f: { l: 1757.6, t: 615.7, r: 2014, b: 812.3 }, stats: uracilStats, dots: uracilDots, range: [-0.59, 3.59], yRange: [-0.432, 0.537], major: 0.25, dec: 2 },
];

const blueRed = ["#0000ff", "#ff0000"];
const geneBars = [
  { f: { l: 1382.5, t: 868.3, r: 1470.5, b: 1039 }, p: { l: 99.5, t: 10, r: 3, b: 44 }, values: glutValues, tops: glutTops, yMax: 40000, yStep: 10000, barW: 21, title: ["GLUT-1 mRNA", "expression (AU)"], brackets: [{ x1: -0.02, y1: 20850, top: 34050, x2: 1.05, y2: 33200, text: "*" }] },
  { f: { l: 1633, t: 870, r: 1742, b: 1040 }, p: { l: 97, t: 10, r: 3, b: 44 }, values: mctValues, tops: mctTops, yMax: 40000, yStep: 10000, barW: 26, title: ["MCT-4 mRNA", "expression (AU)"], brackets: [{ x1: -0.03, y1: 13700, top: 36600, x2: 1, y2: 35600, text: "**" }] },
  { f: { l: 1866.5, t: 870, r: 1964.6, b: 1040 }, p: { l: 98, t: 10, r: 3, b: 44 }, values: hexValues, tops: hexTops, yMax: 3000, yStep: 1000, barW: 23.5, title: ["Hexokinase mRNA", "expression (AU)"], brackets: [{ x1: -0.01, y1: 2400, top: 2982, x2: 1.03, y2: 2912, text: "*" }] },
  { f: { l: 1404.4, t: 1081, r: 1472.5, b: 1238 }, p: { l: 89.8, t: 10, r: 3, b: 44 }, values: tpiValues, tops: tpiTops, yMax: 3000, yStep: 1000, barW: 17, title: ["TPI mRNA", "expression (AU)"], brackets: [{ x1: -0.03, y1: 1822, top: 2732, x2: 1.06, y2: 2669, text: "*" }] },
  { f: { l: 1633, t: 1072, r: 1718, b: 1243 }, p: { l: 97, t: 10, r: 3, b: 44 }, values: enoValues, tops: enoTops, yMax: 60000, yStep: 20000, barW: 21.5, title: ["Enolase mRNA", "expression (AU)"], brackets: [{ x1: 0, y1: 31300, top: 51100, x2: 1.06, y2: 49700, text: "*" }] },
  { f: { l: 1864.5, t: 1081.7, r: 1946, b: 1252.7 }, p: { l: 95.9, t: 10, r: 3, b: 44 }, values: pkmValues, tops: pkmTops, yMax: 50000, yStep: 10000, barW: 20, title: ["PKM mRNA", "expression (AU)"], brackets: [{ x1: 0, y1: 21740, top: 42600, x2: 0.99, y2: 41440, text: "*" }] },
];

const fourColors = ["#0000ff", "#ff0000", "#00c000", "#a61ee6"];
const hBarSpec = { f: { l: 1247.7, t: 1291.7, r: 1481.7, b: 1447.3 }, p: { l: 49, t: 12, r: 3, b: 64.7 }, cats: hCats, values: hValues, tops: hTops, colors: fourColors, range: [-0.66, 3.69], yMax: 15, yStep: 5, barW: 35.7, title: "CFU/ml x 10⁶", titleSize: 22, tickSize: 17, catSize: 17.5, bracketFont: 16,
  brackets: [{ x1: -0.19, y1: 7.77, top: 14.7, x2: 2.93, y2: 1.12, text: "****", tx: 1.71 }, { x1: -0.08, y1: 7.6, top: 13.4, x2: 2.11, y2: 2.63, text: "***", tx: 1.43 }, { x1: 0.06, y1: 8.3, top: 11.95, x2: 0.96, y2: 11.47, text: "**", tx: 0.5 }, { x1: 1.02, y1: 11.47, top: 11.95, x2: 1.99, y2: 2.63, text: "****", tx: 1.48 }] };
const iBarSpec = { f: { l: 1826.4, t: 1311.7, r: 2010, b: 1446 }, p: { l: 45, t: 40, r: 3, b: 66 }, cats: iCats, values: iValues, tops: iTops, colors: fourColors, range: [-0.6, 3.31], yMax: 15, yStep: 5, barW: 31, title: "CFU/ml x 10⁶", titleSize: 21, tickSize: 17, catSize: 16.5, bracketFont: 14,
  brackets: [{ x1: -0.13, y1: 8.5, top: 16.86, x2: 3.02, y2: 1.41, text: "***", tx: 1.69 }, { x1: -0.03, y1: 8.3, top: 15.55, x2: 2.06, y2: 4.58, text: "*", tx: 1.22 }, { x1: 0.08, y1: 8.3, top: 14.33, x2: 0.89, y2: 13.03, text: "***", tx: 0.4 }, { x1: 1.0, y1: 13.03, top: 14.33, x2: 2.02, y2: 4.58, text: "***", tx: 1.45 }] };
const hLineSpec = { f: { l: 974, t: 1301.7, r: 1196, b: 1450 }, p: { l: 75.5, t: 12, r: 3, b: 62 }, cats: glcCats, series: [{ values: glcValues, low: glcLow, high: glcHigh, color: "#111", marker: "rect" }], range: [-0.68, 2.66], yMax: 15, yStep: 5, title: "CFU/ml (x10⁶)", titleSize: 19, tickSize: 17, catSize: 17.5, notes: [{ tx: 1, ty: 10.2, text: "***" }, { tx: 1.97, ty: 12.9, text: "****" }] };
const iLineSpec = { f: { l: 1530, t: 1277.3, r: 1775, b: 1446.7 }, p: { l: 44, t: 12, r: 3, b: 65.3 }, cats: timeCats, series: [{ values: timeRed, low: timeRedLow, high: timeRedHigh, color: "#f01818", marker: "rect" }, { values: timeBlue, low: timeBlueLow, high: timeBlueHigh, color: "#1c28e8", marker: "circle" }], range: [-0.653, 2.68], yMax: 15, yStep: 5, title: "CFU/ml x 10⁶", titleSize: 22, tickSize: 17, catSize: 18, notes: [{ tx: 1, ty: 6.6, text: "*" }, { tx: 2, ty: 13.7, text: "**" }] };

const panelLetters = [["A", 0, 2, 30], ["B", 401, 4, 26], ["C", 401, 725, 26], ["D", 1106, 4, 26], ["E", 1106, 310, 26], ["F", 1106, 590, 26], ["G", 1248, 863, 26], ["H", 840, 1284, 26], ["I", 1457, 1284, 26]];
const heatGroups = [["Control", 63], ["Gefitinib", 108], ["Infection", 160], ["Acriflavin", 205]];

/* ---------- components ---------- */
function Panel({ box, make, clip }: any) {
  const ref = useRef<HTMLCanvasElement>(null);
  useEffect(() => {
    const chart = new Chart(ref.current as any, make() as any);
    return () => chart.destroy();
  }, []);
  return <canvas ref={ref} width={box.width} height={box.height} style={{ position: "absolute", left: box.left, top: box.top, width: box.width, height: box.height, clipPath: clip ? `inset(0 0 ${clip}px 0)` : undefined }} />;
}

function Label({ x, y, size, children, center, bold, color }: any) {
  return <div style={{ position: "absolute", left: x, top: y, fontFamily: FONT, fontSize: size, lineHeight: 1, fontWeight: bold ? 700 : 400, color: color || "#111", whiteSpace: "pre", transform: center ? "translate(-50%,-50%)" : undefined }}>{children}</div>;
}

export default function App() {
  useEffect(() => { document.body.style.margin = "0"; document.body.style.background = "#fff"; }, []);
  return (
    <div style={{ position: "absolute", left: 0, top: 0, width: 2027, height: 1512, background: "#fff", overflow: "hidden", filter: "blur(0.45px)" }}>
      <Panel box={boxOf(heatF, heatP)} make={heatConfig} />
      <Panel box={boxOf(heatBarF, heatBarP)} make={heatBarConfig} />
      <Panel box={boxOf(classF, classP)} make={classConfig} />
      <Label x={347} y={36} size={6} bold color="#444">class</Label>
      {heatGroups.map(([name, x]: any) => (
        <div key={name} style={{ position: "absolute", left: x - 12, top: 1163, fontFamily: FONT, fontSize: 20.5, lineHeight: "24px", color: "#111", writingMode: "vertical-rl", transform: "rotate(180deg)", whiteSpace: "pre" }}>{name}</div>
      ))}
      <Panel box={boxOf(pathF, pathP)} make={pathConfig} clip={9} />
      <Panel box={boxOf(pBarF, pBarP)} make={pBarConfig} />
      <Label x={926} y={229} size={14.5} center color="#333">P value</Label>
      <Panel box={netBox} make={netConfig} />
      {boxPanels.map((b) => (<Panel key={b.title} box={boxOf(b.f, bp)} make={() => boxConfig({ ...b, p: bp })} />))}
      {boxPanels.map((b) => (<Label key={b.title + "t"} x={b.tx} y={b.ty} size={22} center color="#222">{b.title}</Label>))}
      {geneBars.map((g) => (
        <Panel key={g.title[0]} box={boxOf(g.f, g.p)} make={() => barConfig({ ...g, cats: expressionCats, colors: blueRed, range: [-0.5, 1.5], titleSize: 17, tickSize: 14.5, catSize: 18 })} />
      ))}
      <Panel box={boxOf(hLineSpec.f, hLineSpec.p)} make={() => lineConfig(hLineSpec)} />
      <Panel box={boxOf(hBarSpec.f, hBarSpec.p)} make={() => barConfig(hBarSpec)} />
      <Panel box={boxOf(iLineSpec.f, iLineSpec.p)} make={() => lineConfig(iLineSpec)} />
      <Panel box={boxOf(iBarSpec.f, iBarSpec.p)} make={() => barConfig(iBarSpec)} />
      {panelLetters.map(([t, x, y, s]: any) => (<Label key={t} x={x} y={y} size={s} bold color="#000">{t}</Label>))}
    </div>
  );
}
